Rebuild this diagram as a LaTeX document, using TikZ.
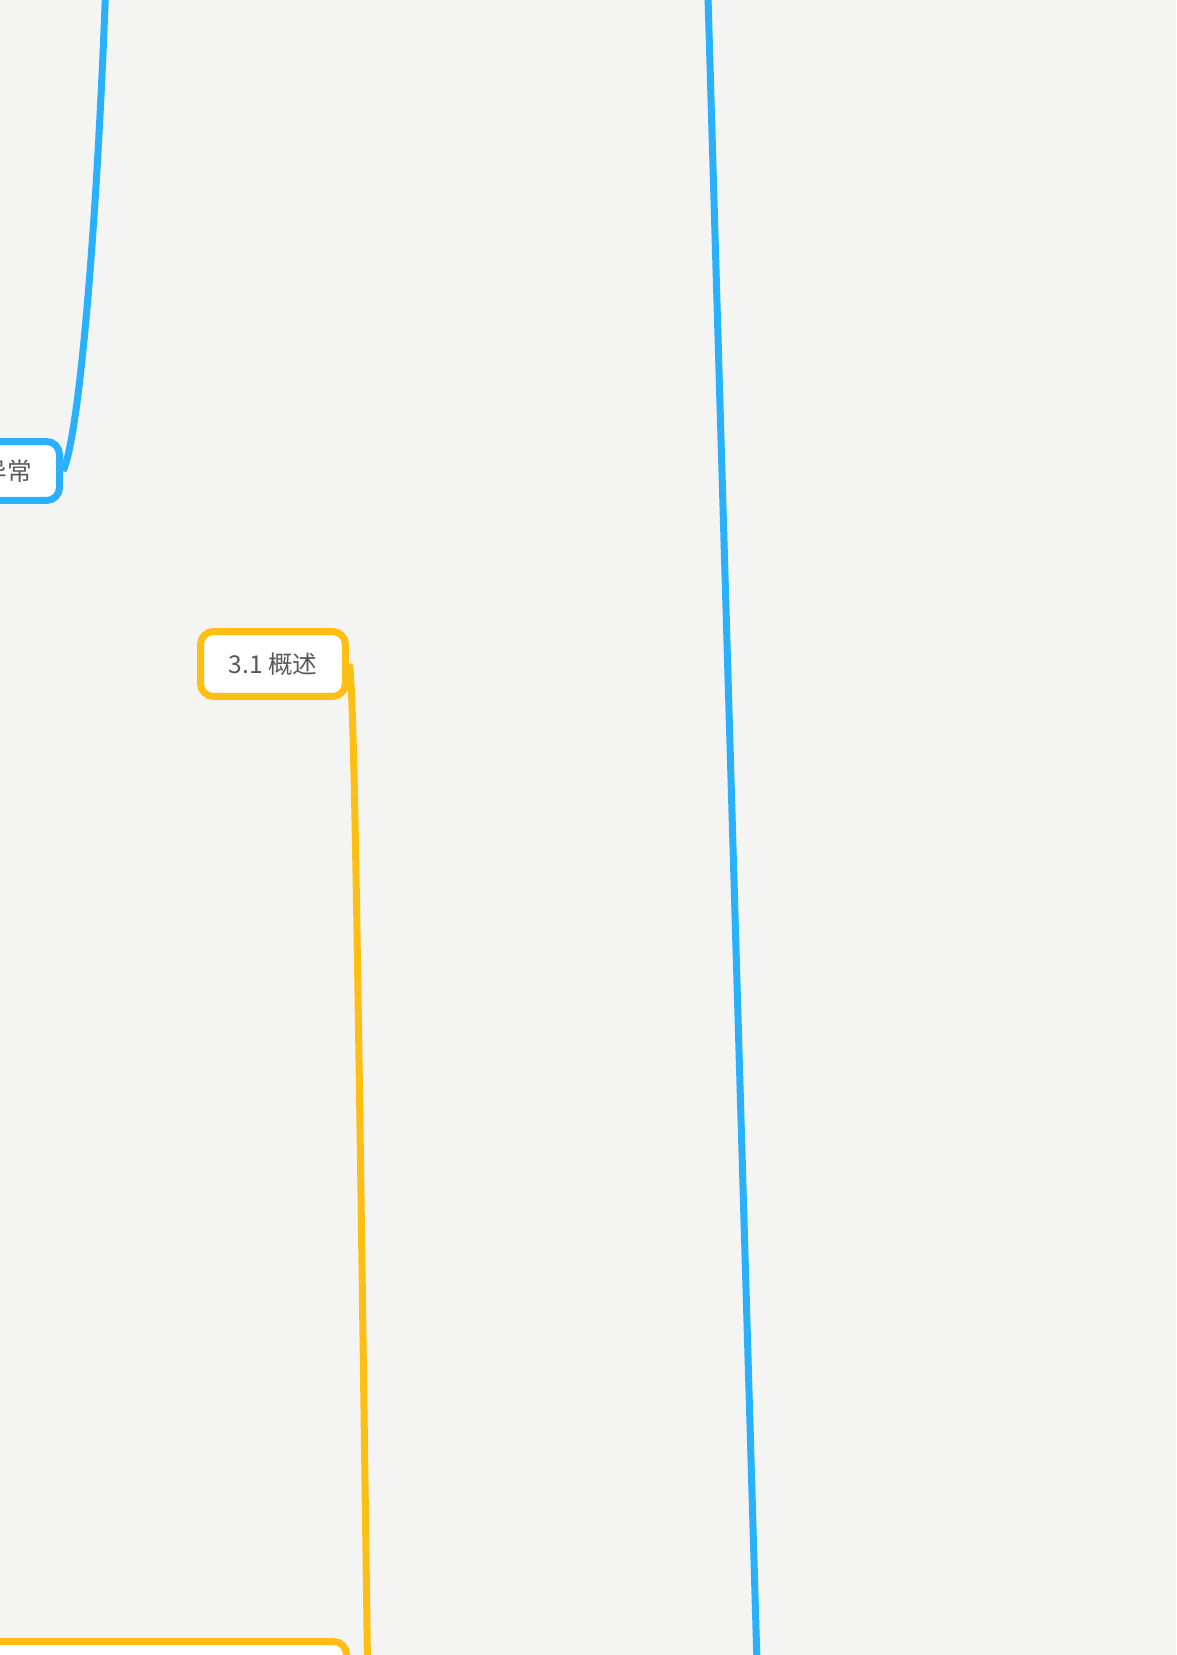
\documentclass[tikz,border=0pt]{standalone}
\usepackage{fontspec}
\setmainfont{Noto Sans CJK SC}
\usepackage{tikz}
\definecolor{mapbg}{RGB}{244,245,242}
\definecolor{mapblue}{RGB}{41,176,255}
\definecolor{maporange}{RGB}{255,190,20}
\definecolor{maptext}{RGB}{88,88,88}
\tikzset{
	topicbox/.style={draw, fill=white, line width=0.14cm, rounded corners=0.26cm,
		text=maptext, font=\fontsize{14}{16}\selectfont, inner ysep=0pt},
	bluebox/.style={topicbox, draw=mapblue, minimum height=1.18cm},
	orangebox/.style={topicbox, draw=maporange, minimum height=1.3cm},
	bluelink/.style={draw=mapblue, line width=0.14cm},
	orangelink/.style={draw=maporange, line width=0.14cm}
}

\begin{document}
\begin{tikzpicture}[x=0.02cm, y=-0.02cm]
			\useasboundingbox (0,0) rectangle (1176,1655);
			\fill[mapbg] (0,0) rectangle (1176,1655);
			\clip (0,0) rectangle (1176,1655);

			% topics
			\node[bluebox, anchor=east, inner xsep=0.55cm] (yichang) at (63,471) {异常};
			\node[orangebox, minimum width=2.9cm] (gaishu) at (273,664) {3.1 概述};
			\node[orangebox, anchor=north east, minimum width=8cm] (nexttopic) at (350,1638) {};

			% off-page ends
			\coordinate (blueup) at (106,-20);
			\coordinate (longtop) at (707.5,-20);
			\coordinate (longbottom) at (757.5,1680);
			\coordinate (orangedown) at (368,1700);

			% links
			\draw[bluelink] (yichang.east) .. controls (78,440) and (96,250) .. (blueup);
			\draw[bluelink] (longtop) -- (longbottom);
			\draw[orangelink] (gaishu.east) .. controls (354,680) and (357,900) .. (orangedown);

		\end{tikzpicture}
\end{document}
